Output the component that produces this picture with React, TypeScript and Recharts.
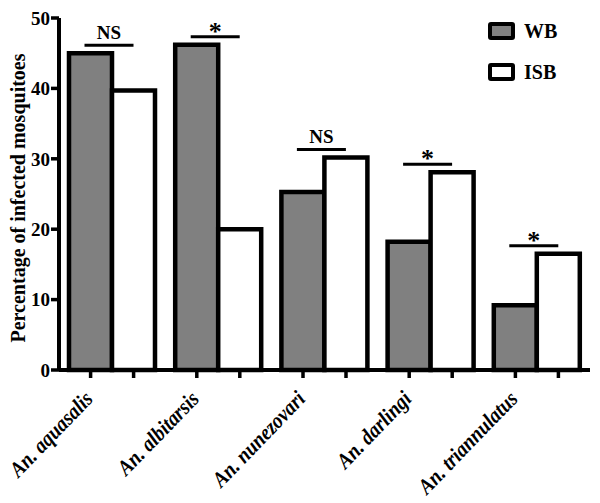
import React from "react";
import { BarChart, Bar, XAxis, YAxis, Legend, LabelList } from "recharts";

const species = [
  "An. aquasalis",
  "An. albitarsis",
  "An. nunezovari",
  "An. darlingi",
  "An. triannulatus",
];
const wbValues = [45.0, 46.2, 25.3, 18.2, 9.2];
const isbValues = [39.7, 20.0, 30.2, 28.1, 16.5];
const significance = ["NS", "*", "NS", "*", "*"];
const yTicks = [0, 10, 20, 30, 40, 50];

const data = species.map((name, i) => ({
  name,
  wb: wbValues[i],
  isb: isbValues[i],
}));

const FONT = "'Liberation Serif', 'Times New Roman', serif";
const BAR_SIZE = 43;
const GRAY = "#808080";

// two small ticks under each group (one per bar) + slanted label
const SpeciesTick = (props: any) => {
  const { x, y, payload } = props;
  const half = BAR_SIZE / 2;
  return (
    <g>
      <line x1={x - half} x2={x - half} y1={y} y2={y + 8} stroke="#000" strokeWidth={3.5} />
      <line x1={x + half} x2={x + half} y1={y} y2={y + 8} stroke="#000" strokeWidth={3.5} />
      <text
        x={0}
        y={0}
        transform={`translate(${x - 18},${y + 30}) rotate(-46) scale(0.88,1)`}
        textAnchor="end"
        fontFamily={FONT}
        fontWeight="bold"
        fontStyle="italic"
        fontSize={22}
        fill="#000"
      >
        {payload.value}
      </text>
    </g>
  );
};

// significance bar + mark drawn over each pair, hooked to the ISB bar
const SigMark = (props: any) => {
  const vb = props.viewBox && props.viewBox.width != null ? props.viewBox : props;
  const { x, y } = vb;
  const height = Math.abs(vb.height);
  let index = props.index;
  if (index == null) index = isbValues.indexOf(props.value);
  if (index < 0 || index == null) return null;
  const base = y + height;
  const ppu = height / isbValues[index];
  const top = base - Math.max(wbValues[index], isbValues[index]) * ppu;
  const lineY = top - 8;
  const cx = x - 3;
  const star = significance[index] === "*";
  return (
    <g>
      <line x1={cx - 24.5} x2={cx + 24.5} y1={lineY} y2={lineY} stroke="#000" strokeWidth={3} />
      <text
        x={cx}
        y={star ? lineY + 3 : lineY - 6}
        textAnchor="middle"
        fontFamily={FONT}
        fontWeight="bold"
        fontSize={star ? 26 : 19}
        fill="#000"
      >
        {significance[index]}
      </text>
    </g>
  );
};

const legendItems = [
  { label: "WB", fill: GRAY },
  { label: "ISB", fill: "#fff" },
];

const LegendBox = () => (
  <div style={{ position: "relative", width: 600, height: 100 }}>
    {legendItems.map((it, i) => (
      <div
        key={it.label}
        style={{
          position: "absolute",
          left: 488,
          top: 22 + i * 41,
          display: "flex",
          alignItems: "center",
        }}
      >
        <span
          style={{
            display: "inline-block",
            width: 19,
            height: 10,
            border: "4px solid #000",
            borderRadius: 3,
            background: it.fill,
          }}
        />
        <span
          style={{
            marginLeft: 9,
            fontFamily: FONT,
            fontWeight: "bold",
            fontSize: 20,
            color: "#000",
            lineHeight: "18px",
          }}
        >
          {it.label}
        </span>
      </div>
    ))}
  </div>
);

const YLabel = (props: any) => {
  const vb = props.viewBox || {};
  const cx = (vb.x ?? 0) + 18;
  const cy = (vb.y ?? 0) + (vb.height ?? 0) / 2 + 4;
  return (
    <text
      x={cx}
      y={cy}
      transform={`rotate(-90,${cx},${cy})`}
      textAnchor="middle"
      dominantBaseline="central"
      fontFamily={FONT}
      fontWeight="bold"
      fontSize={20}
      fill="#000"
    >
      Percentage of infected mosquitoes
    </text>
  );
};

export default function App() {
  return (
    <div style={{ position: "absolute", left: 0, top: 0, background: "#fff" }}>
      <BarChart
        width={600}
        height={503}
        data={data}
        margin={{ top: 18, right: 10, left: 0, bottom: 0 }}
        barSize={BAR_SIZE}
        barGap={0}
      >
        <XAxis
          dataKey="name"
          height={133}
          axisLine={{ stroke: "#000", strokeWidth: 4 }}
          tickLine={false}
          tickSize={0}
          tickMargin={0}
          interval={0}
          tick={<SpeciesTick />}
        />
        <YAxis
          width={59}
          domain={[0, 50]}
          ticks={yTicks}
          interval={0}
          axisLine={{ stroke: "#000", strokeWidth: 4 }}
          tickLine={{ stroke: "#000", strokeWidth: 3.5 }}
          tickSize={8}
          tickMargin={1}
          tick={{ fill: "#000", fontFamily: FONT, fontWeight: "bold", fontSize: 19 }}
          label={<YLabel />}
        />
        <Legend
          layout="vertical"
          align="center"
          verticalAlign="middle"
          wrapperStyle={{ top: 0, left: 0, width: 600 }}
          content={<LegendBox />}
        />
        <Bar dataKey="wb" name="WB" fill={GRAY} stroke="#000" strokeWidth={4.5} isAnimationActive={false} />
        <Bar dataKey="isb" name="ISB" fill="#fff" stroke="#000" strokeWidth={4.5} isAnimationActive={false}>
          <LabelList dataKey="isb" content={<SigMark />} />
        </Bar>
      </BarChart>
    </div>
  );
}
